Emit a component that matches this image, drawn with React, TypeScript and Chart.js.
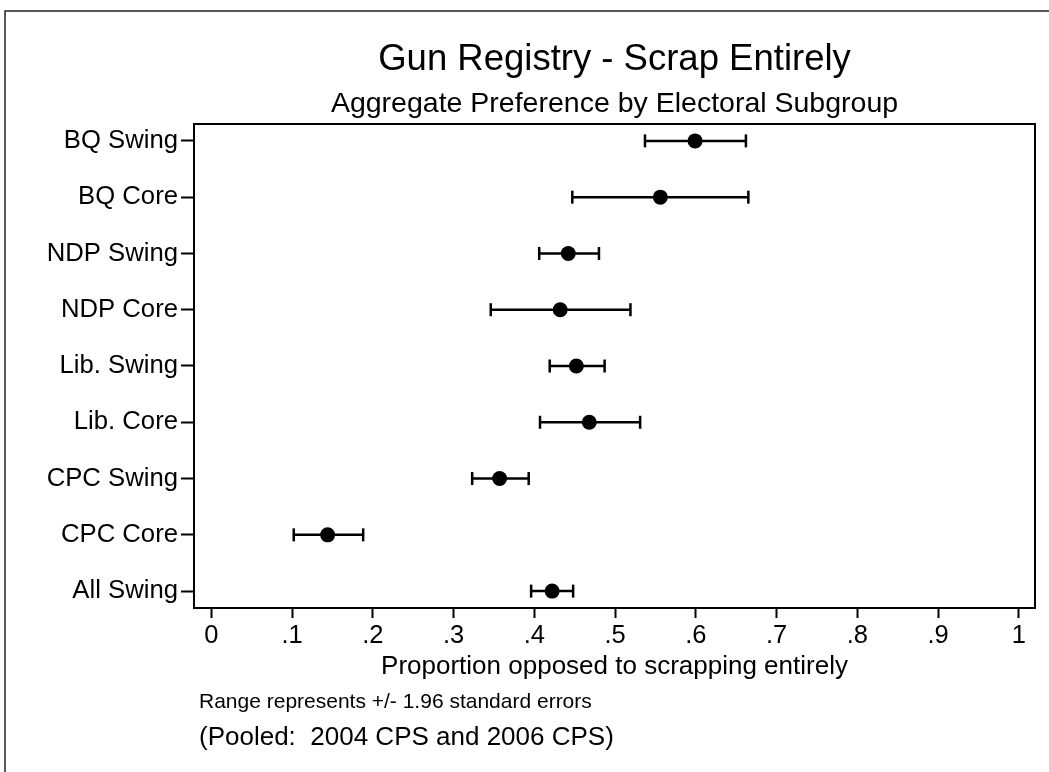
import React, { useEffect, useRef } from "react";
import { Chart, registerables } from "chart.js";

Chart.register(...registerables);

const categories = [
  "BQ Swing",
  "BQ Core",
  "NDP Swing",
  "NDP Core",
  "Lib. Swing",
  "Lib. Core",
  "CPC Swing",
  "CPC Core",
  "All Swing",
];
const estimates = [0.599, 0.556, 0.442, 0.432, 0.452, 0.468, 0.357, 0.144, 0.422];
const lowerBounds = [0.537, 0.447, 0.406, 0.346, 0.419, 0.407, 0.323, 0.102, 0.396];
const upperBounds = [0.662, 0.665, 0.480, 0.519, 0.487, 0.531, 0.393, 0.188, 0.448];

const xTickValues = [0, 0.1, 0.2, 0.3, 0.4, 0.5, 0.6, 0.7, 0.8, 0.9, 1];
const xTickLabels = ["0", ".1", ".2", ".3", ".4", ".5", ".6", ".7", ".8", ".9", "1"];

const titleText = "Gun Registry - Scrap Entirely";
const subtitleText = "Aggregate Preference by Electoral Subgroup";
const xAxisTitle = "Proportion opposed to scrapping entirely";
const note1 = "Range represents +/- 1.96 standard errors";
const note2 = "(Pooled:  2004 CPS and 2006 CPS)";

const FONT = '"Liberation Sans", Arial, Helvetica, sans-serif';

const decorPlugin = {
  id: "decor",
  beforeDraw(chart: any) {
    const ctx = chart.ctx;
    ctx.save();
    ctx.fillStyle = "#ffffff";
    ctx.fillRect(0, 0, chart.width, chart.height);
    ctx.strokeStyle = "#222";
    ctx.lineWidth = 1.5;
    ctx.beginPath();
    ctx.moveTo(5, chart.height);
    ctx.lineTo(5, 11);
    ctx.lineTo(chart.width, 11);
    ctx.stroke();
    ctx.restore();
  },
  afterDraw(chart: any) {
    const ctx = chart.ctx;
    const a = chart.chartArea;
    ctx.save();
    ctx.strokeStyle = "#000";
    ctx.lineWidth = 2;
    ctx.strokeRect(a.left, a.top, a.right - a.left, a.bottom - a.top);
    const cx = (a.left + a.right) / 2;
    ctx.fillStyle = "#000";
    ctx.textAlign = "center";
    ctx.textBaseline = "alphabetic";
    ctx.font = `36.5px ${FONT}`;
    ctx.fillText(titleText, cx, 70);
    ctx.font = `28.5px ${FONT}`;
    ctx.fillText(subtitleText, cx, 112);
    ctx.textAlign = "left";
    ctx.font = `21px ${FONT}`;
    ctx.fillText(note1, 199, 708);
    ctx.font = `26px ${FONT}`;
    ctx.fillText(note2, 199, 745);
    ctx.restore();
  },
};

export default function App() {
  const ref = useRef<HTMLCanvasElement | null>(null);

  useEffect(() => {
    if (!ref.current) return;
    const pointData = estimates.map((v, i) => ({ x: v, y: i }));
    const ciData: any[] = [];
    lowerBounds.forEach((lo, i) => {
      ciData.push({ x: lo, y: i });
      ciData.push({ x: upperBounds[i], y: i });
      ciData.push({ x: null, y: null });
    });

    const chart = new Chart(ref.current, {
      type: "scatter",
      data: {
        datasets: [
          {
            label: "Estimate",
            data: pointData,
            showLine: false,
            pointRadius: 7.5,
            pointHoverRadius: 7.5,
            pointBackgroundColor: "#000",
            pointBorderWidth: 0,
          },
          {
            label: "95% CI",
            data: ciData,
            showLine: true,
            spanGaps: false,
            borderColor: "#000",
            borderWidth: 2.5,
            pointStyle: "line",
            rotation: 90,
            pointRadius: 6.5,
            pointHoverRadius: 6.5,
            pointBorderColor: "#000",
            pointBorderWidth: 2.5,
          } as any,
        ],
      },
      options: {
        animation: false,
        responsive: false,
        devicePixelRatio: 1,
        layout: { padding: { top: 124, right: 14, left: 0, bottom: 0 } },
        plugins: {
          legend: { display: false },
          tooltip: { enabled: false },
          title: { display: false },
        },
        scales: {
          x: {
            type: "linear",
            min: -0.0215,
            max: 1.02,
            afterBuildTicks: (scale: any) => {
              scale.ticks = xTickValues.map((v) => ({ value: v }));
            },
            afterFit: (scale: any) => {
              scale.height = 164;
            },
            ticks: {
              callback: (_v: any, idx: number) => xTickLabels[idx],
              font: { family: FONT, size: 25.5 },
              color: "#000",
              padding: 3,
              maxRotation: 0,
              autoSkip: false,
            },
            grid: {
              display: true,
              drawOnChartArea: false,
              drawTicks: true,
              tickLength: 10,
              tickWidth: 2,
              tickColor: "#000",
            },
            border: { display: true, color: "#000", width: 2 },
            title: {
              display: true,
              text: xAxisTitle,
              color: "#000",
              font: { family: FONT, size: 26 },
              padding: { top: 0, bottom: 90 },
            },
          },
          y: {
            type: "linear",
            reverse: true,
            min: -0.3,
            max: 8.3,
            afterBuildTicks: (scale: any) => {
              scale.ticks = categories.map((_c, i) => ({ value: i }));
            },
            afterFit: (scale: any) => {
              scale.width = 194;
            },
            ticks: {
              callback: (v: any) => categories[Math.round(Number(v))] ?? "",
              font: { family: FONT, size: 25.7 },
              color: "#000",
              padding: 3,
              autoSkip: false,
            },
            grid: {
              display: true,
              drawOnChartArea: false,
              drawTicks: true,
              tickLength: 13,
              tickWidth: 2,
              tickColor: "#000",
            },
            border: { display: true, color: "#000", width: 2 },
          },
        },
      } as any,
      plugins: [decorPlugin],
    });
    return () => chart.destroy();
  }, []);

  return (
    <div style={{ position: "fixed", left: 0, top: 0, width: 1049, height: 772, background: "#fff" }}>
      <canvas ref={ref} width={1049} height={772} style={{ width: 1049, height: 772, display: "block" }} />
    </div>
  );
}
